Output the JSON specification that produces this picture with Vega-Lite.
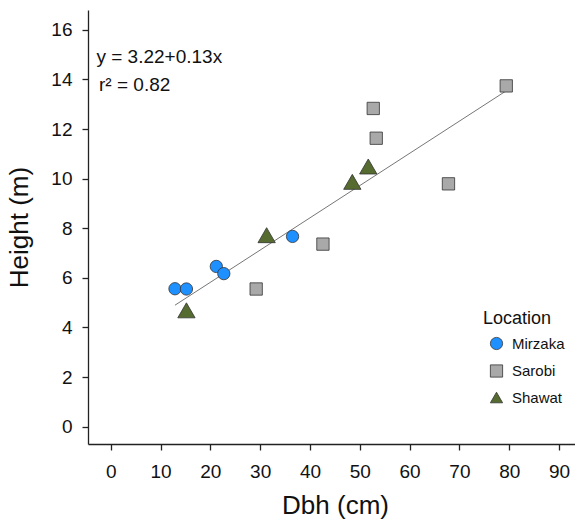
{
  "$schema": "https://vega.github.io/schema/vega-lite/v6.json",
  "width": 487,
  "height": 434,
  "autosize": {"type": "none"},
  "padding": {"left": 88, "top": 10, "right": 0, "bottom": 75},
  "background": "white",
  "config": {
    "view": {"stroke": null},
    "font": "Liberation Sans",
    "axis": {
      "grid": false,
      "domainColor": "#222222",
      "domainWidth": 1.3,
      "tickColor": "#222222",
      "tickWidth": 1.3,
      "tickSize": 6,
      "labelFont": "Liberation Sans",
      "labelFontSize": 19,
      "labelColor": "#111111",
      "titleFont": "Liberation Sans",
      "titleFontSize": 26,
      "titleFontWeight": "normal",
      "titleColor": "#111111"
    },
    "legend": {
      "orient": "none",
      "legendX": 395,
      "legendY": 300,
      "titleFont": "Liberation Sans",
      "titleFontSize": 18,
      "titleFontWeight": "normal",
      "titleColor": "#111111",
      "titlePadding": 8,
      "labelFont": "Liberation Sans",
      "labelFontSize": 15,
      "labelColor": "#111111",
      "labelOffset": 8,
      "symbolOffset": 6,
      "rowPadding": 10.5,
      "symbolSize": 150,
      "symbolStrokeColor": "#333333",
      "symbolStrokeWidth": 0.8
    }
  },
  "datasets": {
    "trees": [
      {"Location": "Mirzaka", "Dbh": 12.9, "Height": 5.56},
      {"Location": "Mirzaka", "Dbh": 15.2, "Height": 5.55},
      {"Location": "Mirzaka", "Dbh": 21.2, "Height": 6.46},
      {"Location": "Mirzaka", "Dbh": 22.7, "Height": 6.17},
      {"Location": "Mirzaka", "Dbh": 36.5, "Height": 7.67},
      {"Location": "Sarobi", "Dbh": 29.2, "Height": 5.55},
      {"Location": "Sarobi", "Dbh": 42.6, "Height": 7.36},
      {"Location": "Sarobi", "Dbh": 52.7, "Height": 12.83},
      {"Location": "Sarobi", "Dbh": 53.3, "Height": 11.63},
      {"Location": "Sarobi", "Dbh": 67.8, "Height": 9.79},
      {"Location": "Sarobi", "Dbh": 79.4, "Height": 13.74},
      {"Location": "Shawat", "Dbh": 15.2, "Height": 4.69},
      {"Location": "Shawat", "Dbh": 31.3, "Height": 7.72},
      {"Location": "Shawat", "Dbh": 48.5, "Height": 9.87},
      {"Location": "Shawat", "Dbh": 51.7, "Height": 10.49}
    ],
    "fit": [
      {"Dbh": 12.9, "Height": 4.897},
      {"Dbh": 79.4, "Height": 13.542}
    ],
    "notes": [
      {"label": "y = 3.22+0.13x", "Dbh": -2.87, "Height": 14.66},
      {"label": "r² = 0.82", "Dbh": -2.35, "Height": 13.55}
    ]
  },
  "encoding": {
    "x": {
      "field": "Dbh",
      "type": "quantitative",
      "scale": {"domain": [-4.56, 93.2], "nice": false, "zero": false},
      "axis": {
        "title": "Dbh (cm)",
        "values": [0, 10, 20, 30, 40, 50, 60, 70, 80, 90],
        "labelBaseline": "alphabetic",
        "labelPadding": 27,
        "titleX": 247,
        "titleY": 69,
        "titleBaseline": "alphabetic"
      }
    },
    "y": {
      "field": "Height",
      "type": "quantitative",
      "scale": {"domain": [-0.7, 16.8], "nice": false, "zero": false},
      "axis": {
        "title": "Height (m)",
        "values": [0, 2, 4, 6, 8, 10, 12, 14, 16],
        "labelPadding": 10,
        "titleX": -61,
        "titleY": 217,
        "titleAlign": "center",
        "titleBaseline": "alphabetic"
      }
    }
  },
  "layer": [
    {
      "data": {"name": "fit"},
      "mark": {"type": "line", "color": "#666666", "strokeWidth": 0.9}
    },
    {
      "data": {"name": "trees"},
      "transform": [{"filter": "datum.Location != 'Shawat'"}],
      "mark": {"type": "point", "filled": true, "opacity": 1, "size": 152, "stroke": "#333333", "strokeWidth": 0.8},
      "encoding": {
        "color": {
          "field": "Location",
          "type": "nominal",
          "title": "Location",
          "scale": {"domain": ["Mirzaka", "Sarobi", "Shawat"], "range": ["#1E90FF", "#A9A9A9", "#556B2F"]}
        },
        "shape": {
          "field": "Location",
          "type": "nominal",
          "title": "Location",
          "scale": {"domain": ["Mirzaka", "Sarobi", "Shawat"], "range": ["circle", "square", "triangle-up"]}
        }
      }
    },
    {
      "data": {"name": "trees"},
      "transform": [{"filter": "datum.Location == 'Shawat'"}],
      "mark": {"type": "point", "filled": true, "opacity": 1, "size": 300, "stroke": "#333333", "strokeWidth": 0.8},
      "encoding": {
        "color": {
          "field": "Location",
          "type": "nominal",
          "title": "Location",
          "scale": {"domain": ["Mirzaka", "Sarobi", "Shawat"], "range": ["#1E90FF", "#A9A9A9", "#556B2F"]}
        },
        "shape": {
          "field": "Location",
          "type": "nominal",
          "title": "Location",
          "scale": {"domain": ["Mirzaka", "Sarobi", "Shawat"], "range": ["circle", "square", "triangle-up"]}
        }
      }
    },
    {
      "data": {"name": "notes"},
      "mark": {"type": "text", "align": "left", "baseline": "alphabetic", "fontSize": 19, "color": "#111111"},
      "encoding": {"text": {"field": "label", "type": "nominal"}}
    }
  ]
}
